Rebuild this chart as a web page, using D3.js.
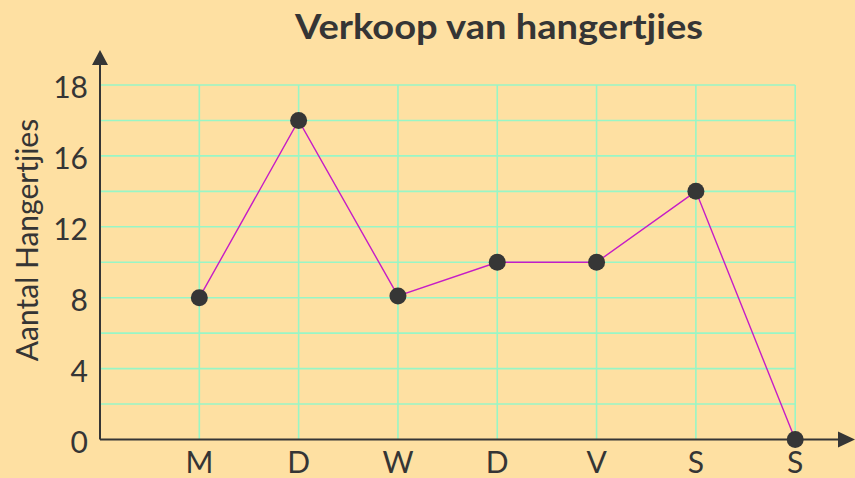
<!DOCTYPE html>
<html><head><meta charset="utf-8">
<script src="https://cdn.jsdelivr.net/npm/d3@7"></script>
<style>html,body{margin:0;padding:0;background:#fee0a2;overflow:hidden}</style>
</head><body>
<script>
const categories = ["M","D","W","D","V","S","S"];
const values = [8, 18, 8.1, 10, 10, 14, 0];
const yTickValues = [0, 4, 8, 12, 16, 20];
const yTickLabels = ["0", "4", "8", "12", "16", "18"];
const gridValues = [2, 4, 6, 8, 10, 12, 14, 16, 18, 20];
const title = "Verkoop van hangertjies";
const yLabel = "Aantal Hangertjies";

const W = 855, H = 478;
const ox = 100, oy = 439.5;
const svg = d3.select("body").append("svg").attr("width", W).attr("height", H)
  .style("display","block").style("background","#fee0a2");

const x = d3.scaleLinear().domain([-1, categories.length - 1]).range([ox, 795.2]);
const y = d3.scaleLinear().domain([0, 20]).range([oy, 85]);
const font = "Lato, 'Open Sans', sans-serif";
const ink = "#353535";
const gridCol = "#98f6c6";

// grid
svg.append("g").selectAll("line").data(gridValues).join("line")
  .attr("x1", ox).attr("x2", x(categories.length - 1))
  .attr("y1", d => y(d)).attr("y2", d => y(d))
  .attr("stroke", gridCol).attr("stroke-width", 1.6);
svg.append("g").selectAll("line").data(d3.range(categories.length)).join("line")
  .attr("x1", d => x(d)).attr("x2", d => x(d))
  .attr("y1", y(20)).attr("y2", oy)
  .attr("stroke", gridCol).attr("stroke-width", 1.6);

// axes
svg.append("line").attr("x1", ox).attr("x2", 840).attr("y1", oy).attr("y2", oy)
  .attr("stroke", ink).attr("stroke-width", 2);
svg.append("line").attr("x1", ox).attr("x2", ox).attr("y1", oy).attr("y2", 62)
  .attr("stroke", ink).attr("stroke-width", 2);
svg.append("path").attr("d", `M${ox},50 L${ox-8},65 L${ox+8},65 Z`).attr("fill", ink);
svg.append("path").attr("d", `M855,${oy} L838,${oy-8} L838,${oy+8} Z`).attr("fill", ink);

// y tick labels
svg.append("g").selectAll("text").data(yTickValues).join("text")
  .attr("x", 88).attr("y", d => y(d) + 13)
  .attr("text-anchor", "end").attr("font-family", font).attr("font-size", 30)
  .attr("fill", ink).text((d, i) => yTickLabels[i]);

// x labels
svg.append("g").selectAll("text").data(categories).join("text")
  .attr("x", (d, i) => x(i)).attr("y", 473)
  .attr("text-anchor", "middle").attr("font-family", font).attr("font-size", 30)
  .attr("fill", ink).text(d => d);

// line
const line = d3.line().x((d, i) => x(i)).y(d => y(d));
svg.append("path").datum(values).attr("d", line)
  .attr("fill", "none").attr("stroke", "#c61cc6").attr("stroke-width", 1.4);
svg.append("g").selectAll("circle").data(values).join("circle")
  .attr("cx", (d, i) => x(i)).attr("cy", d => y(d)).attr("r", 8.5).attr("fill", "#363636");

// title
svg.append("text").attr("x", 499).attr("y", 39).attr("text-anchor", "middle")
  .attr("font-family", font).attr("font-weight", "bold").attr("font-size", 35)
  .attr("textLength", 408).attr("lengthAdjust", "spacingAndGlyphs")
  .attr("fill", ink).text(title);

// y label
svg.append("text").attr("transform", "translate(38,240) rotate(-90)")
  .attr("text-anchor", "middle").attr("font-family", font).attr("font-size", 30)
  .attr("fill", ink).text(yLabel);
</script>
</body></html>
